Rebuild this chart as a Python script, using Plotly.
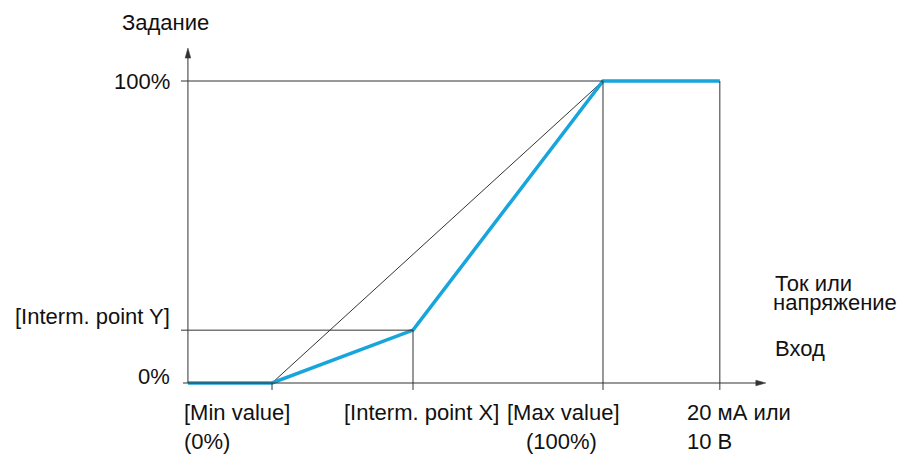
import plotly.graph_objects as go

# Input points (% of input span): Min value, Interm. point X, Max value, 20 mA / 10 V
input_pts = [0, 42.6, 100, 135.3]
# Reference (%) at those points: 0%, Interm. point Y, 100%, 100%
ref_pts = [0, 17.5, 100, 100]

axis_x0 = -25.4      # position of the vertical (reference) axis
axis_x_end = 149.2   # tip of the horizontal arrow
axis_y_end = 110.9   # tip of the vertical arrow

y_labels = ["100%", "[Interm. point Y]", "0%"]
y_label_vals = [100, 21.9, 2.0]

x_labels_top = ["[Min value]", "[Interm. point X]", "[Max value]", "20 мА или"]
x_labels_bottom = ["(0%)", "", "(100%)", "10 В"]
x_label_left = [-27.2, 21.1, 70.3, 124.8]
x_label_bottom_left = [-27.2, 21.1, 76.0, 124.8]

BLUE = "#17a5db"
INK = "#333333"
FONT = dict(family="Liberation Sans, Arial, sans-serif", size=22, color="#111111")

# px -> data units (chart is drawn 3.31 px per x unit, 3.02 px per y unit)
SX, SY = 3.31, 3.02

fig = go.Figure()

# thin straight reference line from Min value to Max value
fig.add_trace(go.Scatter(
    x=[input_pts[0], input_pts[2]], y=[ref_pts[0], ref_pts[2]],
    mode="lines", line=dict(color=INK, width=1), hoverinfo="skip"))

# thick blue characteristic
fig.add_trace(go.Scatter(
    x=[axis_x0] + input_pts, y=[0] + ref_pts,
    mode="lines", line=dict(color=BLUE, width=3.5), hoverinfo="skip"))

shapes = []
thin = dict(color=INK, width=1)
tick_len = 2.3  # below the x-axis, in y units
left_stub = axis_x0 - 2.1

# axes
shapes.append(dict(type="line", x0=axis_x0 - 1.5, x1=axis_x_end - 2, y0=0, y1=0, line=thin))
shapes.append(dict(type="line", x0=axis_x0, x1=axis_x0, y0=0, y1=axis_y_end - 2, line=thin))

# narrow filled arrowheads
head_len, head_half = 10, 2.8
hx = (f"M {axis_x_end} 0 L {axis_x_end - head_len / SX} {head_half / SY} "
      f"L {axis_x_end - head_len / SX} {-head_half / SY} Z")
hy = (f"M {axis_x0} {axis_y_end} L {axis_x0 - head_half / SX} {axis_y_end - head_len / SY} "
      f"L {axis_x0 + head_half / SX} {axis_y_end - head_len / SY} Z")
for p in (hx, hy):
    shapes.append(dict(type="path", path=p, fillcolor=INK, line=dict(color=INK, width=0.5)))

# horizontal guides at Interm. Y and 100%
for xi, yi in [(input_pts[1], ref_pts[1]), (input_pts[2], ref_pts[2])]:
    shapes.append(dict(type="line", x0=left_stub, x1=xi, y0=yi, y1=yi, line=thin))
# vertical guides down to the ticks
for xi, yi in zip(input_pts[1:], ref_pts[1:]):
    shapes.append(dict(type="line", x0=xi, x1=xi, y0=yi, y1=-tick_len, line=thin))
shapes.append(dict(type="line", x0=input_pts[0], x1=input_pts[0], y0=0, y1=-tick_len, line=thin))

annotations = []
annotations.append(dict(x=-45.9, y=119.5, text="Задание", xanchor="left", yanchor="middle",
                        showarrow=False, font=FONT))
for txt, yv in zip(y_labels, y_label_vals):
    annotations.append(dict(x=-30.2, y=yv, text=txt, xanchor="right", yanchor="middle",
                            showarrow=False, font=FONT))
for txt, xv in zip(x_labels_top, x_label_left):
    annotations.append(dict(x=xv, y=-9.6, text=txt, xanchor="left", yanchor="middle",
                            showarrow=False, font=FONT))
for txt, xv in zip(x_labels_bottom, x_label_bottom_left):
    if txt:
        annotations.append(dict(x=xv, y=-19.2, text=txt, xanchor="left", yanchor="middle",
                                showarrow=False, font=FONT))
annotations.append(dict(x=151.4, y=32.8, text="Ток или", xanchor="left", yanchor="middle",
                        showarrow=False, font=FONT))
annotations.append(dict(x=150.8, y=26.6, text="напряжение", xanchor="left", yanchor="middle",
                        showarrow=False, font=FONT))
annotations.append(dict(x=151.4, y=11.4, text="Вход", xanchor="left", yanchor="middle",
                        showarrow=False, font=FONT))

# the page body adds an 8 px offset, so the figure is 8 px smaller and the
# ranges start at what would be pixel 8 of the reference
fig.update_layout(
    width=910, height=450, autosize=False,
    margin=dict(l=0, r=0, t=0, b=0),
    paper_bgcolor="white", plot_bgcolor="white",
    showlegend=False,
    xaxis=dict(range=[-79.76, 195.17], visible=False, fixedrange=True),
    yaxis=dict(range=[-24.83, 124.17], visible=False, fixedrange=True),
    shapes=shapes, annotations=annotations,
)

fig.write_html("out.html")
